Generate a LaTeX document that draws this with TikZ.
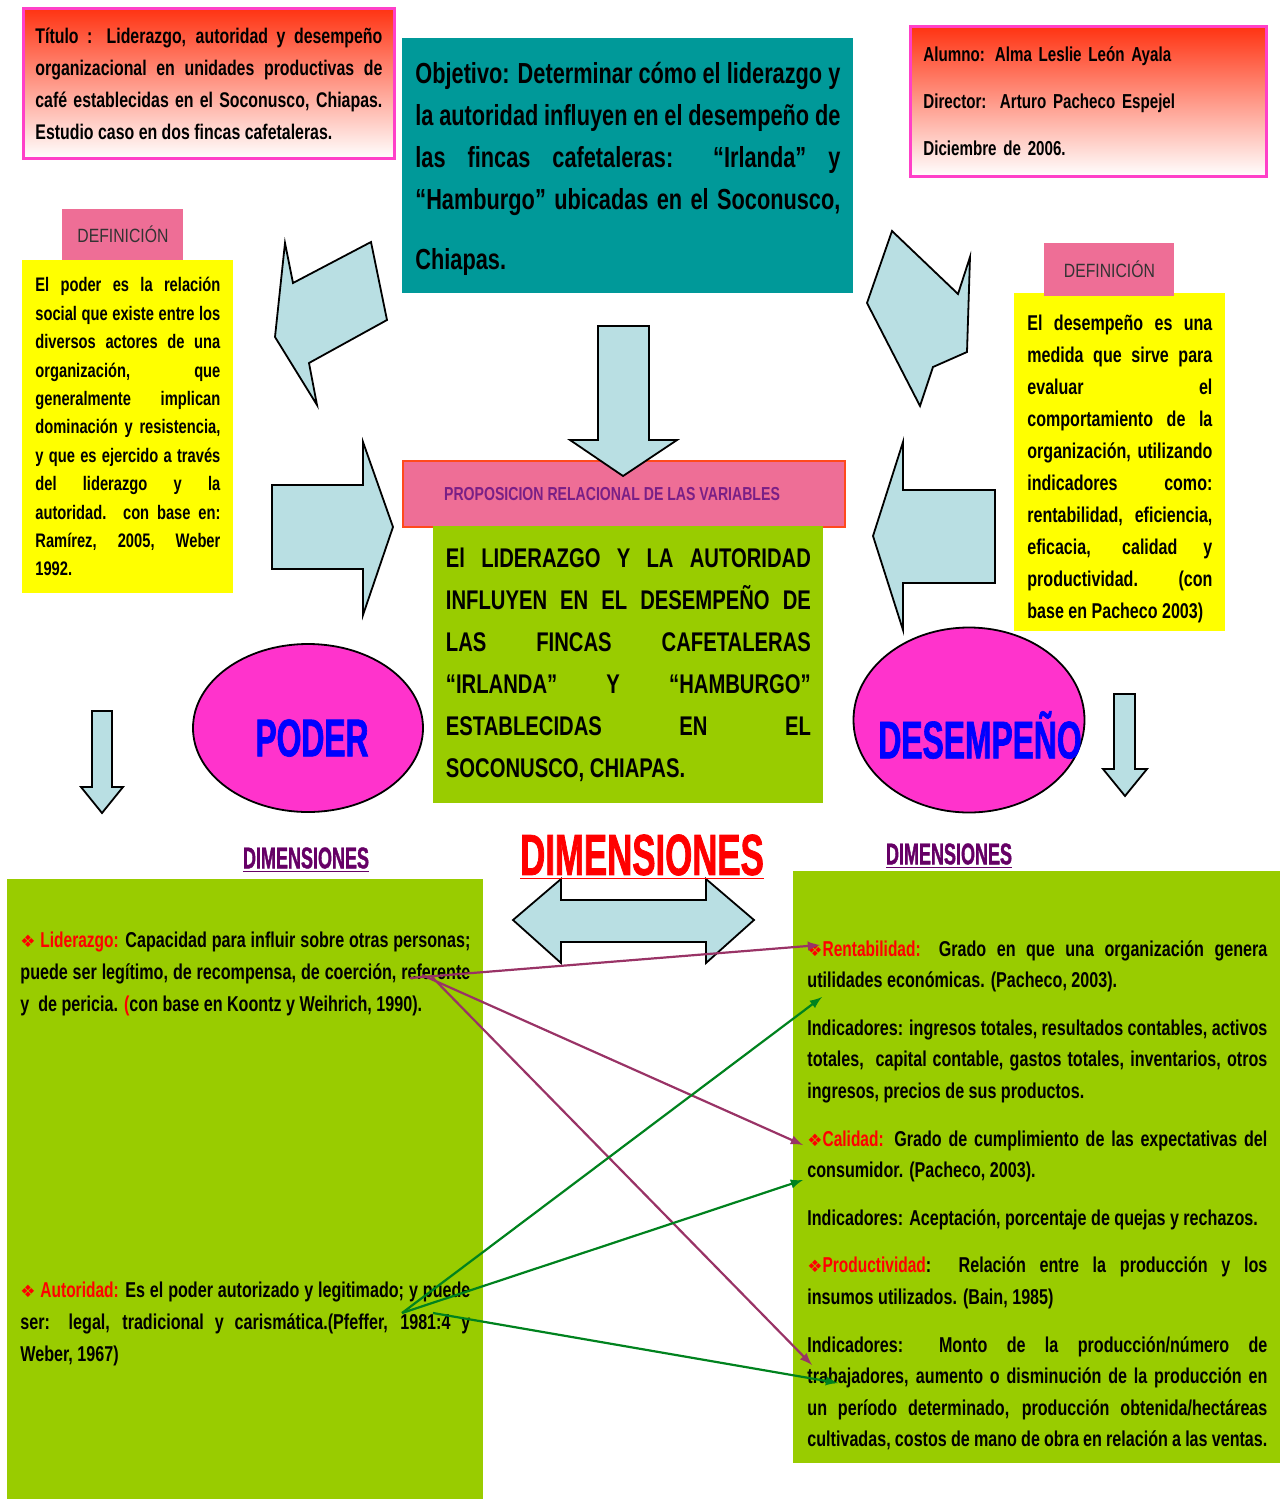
\documentclass[tikz,border=0pt]{standalone}
\usepackage{fontspec}
\setmainfont{Liberation Sans}[FakeStretch=0.75]
\newfontfamily\rgfont{Liberation Sans}[FakeStretch=0.82]
\newfontfamily\hdfont{Liberation Sans}[FakeStretch=0.6, FakeBold=1.2]
\newfontfamily\lbfont{Liberation Sans}[FakeStretch=0.72]
\newfontfamily\symfont{DejaVu Sans}
\usepackage{tikz}
\usetikzlibrary{positioning,calc}
\usetikzlibrary{shapes.geometric, arrows}
\definecolor{rosa}{HTML}{FF40C8}
\definecolor{rojo}{HTML}{FF3312}
\definecolor{tealo}{HTML}{009999}
\definecolor{amar}{HTML}{FFFF00}
\definecolor{chicle}{HTML}{EE6E96}
\definecolor{borde}{HTML}{FF4A1C}
\definecolor{verde}{HTML}{99CC00}
\definecolor{magen}{HTML}{FF33CC}
\definecolor{celes}{HTML}{B9DFE3}
\definecolor{morado}{HTML}{660066}
\definecolor{lila}{HTML}{993366}
\definecolor{verdeo}{HTML}{00821E}
\definecolor{propo}{HTML}{7A1F86}
\newcommand{\bul}{{\symfont\fontsize{8.5}{8}\selectfont\color{red}❖}}
\newcommand{\etq}[1]{{\lbfont\bfseries\color{red}#1}}
\tikzset{
  tb/.style={rectangle, draw=rosa, line width=1.4pt, top color=rojo, bottom color=white, minimum width=185.5pt, minimum height=75pt, text width=173.5pt, align=justify, font=\bfseries\fontsize{10.6}{16}\selectfont},
  ab/.style={tb, minimum width=178pt, text width=165pt, align=left, font=\bfseries\fontsize{10.1}{23.5}\selectfont},
  ob/.style={rectangle, fill=tealo, minimum width=225.5pt, minimum height=127.5pt, text width=212.5pt, align=justify, font=\bfseries\fontsize{14.5}{21}\selectfont},
  dl/.style={rectangle, fill=chicle, text=black!80, font=\rgfont\fontsize{9.6}{11}\selectfont},
  yb/.style={rectangle, fill=amar, minimum width=105.5pt, text width=92.5pt, align=justify},
  pr/.style={rectangle, fill=chicle, draw=borde, line width=1pt, minimum width=221pt, minimum height=33pt, text=propo, font=\bfseries\fontsize{9.4}{11}\selectfont},
  gb/.style={rectangle, fill=verde, inner sep=0pt},
  el/.style={ellipse, draw=black, fill=magen, line width=0.9pt},
  eltx/.style={text=blue, font=\hdfont\bfseries\fontsize{26.5}{30}\selectfont},
  dm/.style={text=morado, font=\hdfont\bfseries\fontsize{15}{18}\selectfont},
  tx/.style={inner sep=0pt, align=justify, font=\bfseries\fontsize{10.75}{15.8}\selectfont},
  ba/.style={draw=black, fill=celes, line width=0.9pt},
  lp/.style={->, draw=lila, line width=1.1pt},
  lv/.style={->, draw=verdeo, line width=1.1pt}
}
\begin{document}
\begin{tikzpicture}[x=0.5pt, y=-0.5pt, >=latex]
	\useasboundingbox (0,0) rectangle (1281,1499);
	\node[tb, anchor=north west] (titulo) at (22,7) {Título : Liderazgo, autoridad y desempeño\linebreak organizacional en unidades productivas de\linebreak café establecidas en el Soconusco, Chiapas.\linebreak Estudio caso en dos fincas cafetaleras.};
	\node[ob, anchor=north west] (objetivo) at (402,38) {\rule{0pt}{14pt}Objetivo: Determinar cómo el liderazgo y\linebreak la autoridad influyen en el desempeño de\linebreak las fincas cafetaleras: “Irlanda” y\linebreak “Hamburgo” ubicadas en el Soconusco,\linebreak \rule{0pt}{26pt}Chiapas.};
	\node[ab, anchor=north west] (alumno) at (909,25) {Alumno: Alma Leslie León Ayala\\Director:\ \ Arturo Pacheco Espejel\\Diciembre de 2006.};
	%
	\node[yb, anchor=north west, minimum height=166.5pt, font=\bfseries\fontsize{9.8}{14.2}\selectfont] (defpoder) at (22,260) {El poder es la relación\linebreak social que existe entre los\linebreak diversos actores de una\linebreak organización, que\linebreak generalmente implican\linebreak dominación y resistencia,\linebreak y que es ejercido a través\linebreak del liderazgo y la\linebreak autoridad. con base en:\linebreak Ramírez, 2005, Weber\linebreak 1992.};
	\node[dl, above=0pt of defpoder.north west, anchor=south west, xshift=20pt, minimum width=60.5pt, minimum height=25.5pt] (def1) {DEFINICIÓN};
	\node[yb, anchor=north west, minimum height=169pt, font=\bfseries\fontsize{10.7}{16}\selectfont] (defdes) at (1014,293) {\rule{0pt}{14pt}El desempeño es una\linebreak medida que sirve para\linebreak evaluar el\linebreak comportamiento de la\linebreak organización, utilizando\linebreak indicadores como:\linebreak rentabilidad, eficiencia,\linebreak eficacia, calidad y\linebreak productividad. (con\linebreak base en Pacheco 2003)};
	\node[dl, above=0pt of defdes.north west, anchor=south west, xshift=15pt, yshift=-1.5pt, minimum width=65pt, minimum height=26.5pt] (def2) {DEFINICIÓN};
	%
	\node[pr, anchor=north west] (prop) at (402,460) {PROPOSICION RELACIONAL DE LAS VARIABLES\hspace*{12pt}};
	\node[gb, anchor=north west, minimum width=195pt, minimum height=138.5pt, text width=182.5pt, align=justify, font=\bfseries\fontsize{13.5}{21}\selectfont] (hipo) at (433,526) {El LIDERAZGO Y LA AUTORIDAD\linebreak INFLUYEN EN EL DESEMPEÑO DE\linebreak LAS FINCAS CAFETALERAS\linebreak “IRLANDA” Y “HAMBURGO”\linebreak ESTABLECIDAS EN EL\linebreak SOCONUSCO, CHIAPAS.};
	%
	\draw[ba] (285,243) -- (293,283) -- (371,242) -- (387,320) -- (309,363) -- (317,405) -- (275,337) -- cycle;
	\draw[ba] (892,231) -- (958,294) -- (970,257) -- (967,352) -- (933,367) -- (920,406) -- (867,303) -- cycle;
	\draw[ba] (598,326) -- (649,326) -- (649,440) -- (677,440) -- (623,476) -- (570,440) -- (598,440) -- cycle;
	\draw[ba] (272,485) -- (363,485) -- (363,442) -- (393,527) -- (363,615) -- (363,569) -- (272,569) -- cycle;
	\draw[ba] (995,490) -- (903,490) -- (903,442) -- (873,536) -- (903,630) -- (903,583) -- (995,583) -- cycle;
	\draw[ba] (92,711) -- (112,711) -- (112,787) -- (123,787) -- (102,813) -- (81,787) -- (92,787) -- cycle;
	\draw[ba] (1114,694) -- (1135,694) -- (1135,769) -- (1147,769) -- (1125,796) -- (1103,769) -- (1114,769) -- cycle;
	\draw[ba] (513,920) -- (561,879) -- (561,900) -- (706,900) -- (706,879) -- (754,920) -- (706,963) -- (706,942) -- (561,942) -- (561,963) -- cycle;
	%
	\node[el, minimum width=115pt, minimum height=84pt] (poder) at (308,728) {};
	\node[eltx] (podertx) at (312,738) {PODER};
	\node[el, minimum width=115.5pt, minimum height=92.5pt] (desemp) at (969,720) {};
	\node[eltx] (desemptx) at (980,735) {DESEMPEÑO};
	%
	\node[dm] (dim1) at (306,860) {\underline{DIMENSIONES}};
	\node[dm] (dim2) at (949,856) {\underline{DIMENSIONES}};
	\node[text=red, font=\hdfont\bfseries\fontsize{29}{32}\selectfont] (dimc) at (642,857) {\underline{DIMENSIONES}};
	%
	\node[gb, anchor=north west, minimum width=238pt, minimum height=310pt] (dimpoder) at (7,879) {};
	\node[gb, anchor=north west, minimum width=243.5pt, minimum height=296pt] (dimdes) at (793,871) {};
	\node[tx, anchor=north west, text width=225pt] (lider) at (20,932) {\bul\ \etq{Liderazgo:} Capacidad para influir sobre otras personas;\linebreak puede ser legítimo, de recompensa, de coerción, referente\linebreak y\ \ de pericia. {\color{red}(}con base en Koontz y Weihrich, 1990).};
	\node[tx, anchor=north west, text width=225pt] (autor) at (20,1282) {\bul\ \etq{Autoridad:} Es el poder autorizado y legitimado; y puede\linebreak ser: legal, tradicional y carismática.(Pfeffer, 1981:4 y\linebreak Weber, 1967)};
	\node[tx, anchor=north west, text width=230pt] (indic) at (807,940) {\bul\etq{Rentabilidad:} Grado en que una organización genera\linebreak utilidades económicas. (Pacheco, 2003).\\[8pt]
	Indicadores: ingresos totales, resultados contables, activos\linebreak totales,\ \ capital contable, gastos totales, inventarios, otros\linebreak ingresos, precios de sus productos.\\[8pt]
	\bul\etq{Calidad:} Grado de cumplimiento de las expectativas del\linebreak consumidor. (Pacheco, 2003).\\[8pt]
	Indicadores: Aceptación, porcentaje de quejas y rechazos.\\[8pt]
	\bul\etq{Productividad}:\ \ Relación entre la producción y los\linebreak insumos utilizados. (Bain, 1985)\\[8pt]
	Indicadores: Monto de la producción/número de\linebreak trabajadores, aumento o disminución de la producción en\linebreak un período determinado, producción obtenida/hectáreas\linebreak cultivadas, costos de mano de obra en relación a las ventas.};
	%
	\coordinate (lidA) at (410,978);
	\coordinate (lidB) at (422,975);
	\coordinate (lidC) at (432,977);
	\coordinate (autA) at (402,1313);
	\coordinate (autB) at (433,1313);
	\coordinate (rentA) at (820,945);
	\coordinate (rentB) at (822,997);
	\coordinate (calA) at (803,1145);
	\coordinate (calB) at (803,1180);
	\coordinate (prodA) at (812,1365);
	\coordinate (prodB) at (838,1383);
	\draw[lp] (lidA) -- (rentA);
	\draw[lp] (lidB) -- (calA);
	\draw[lp] (lidC) -- (prodA);
	\draw[lv] (autA) -- (rentB);
	\draw[lv] (autA) -- (calB);
	\draw[lv] (autB) -- (prodB);
\end{tikzpicture}
\end{document}
